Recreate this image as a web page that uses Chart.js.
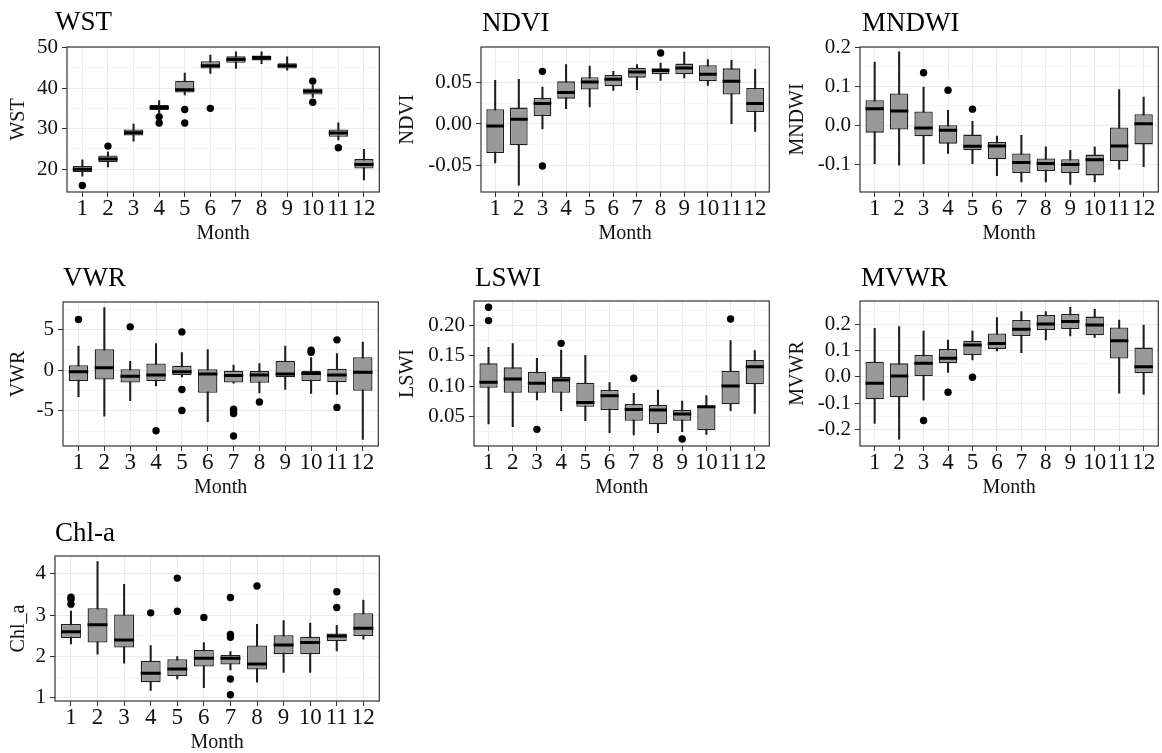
<!DOCTYPE html>
<html>
<head>
<meta charset="utf-8">
<title>Monthly boxplots</title>
<script src="https://cdn.jsdelivr.net/npm/chart.js@4.4.1/dist/chart.umd.min.js"></script>
<style>
  html, body { margin: 0; padding: 0; background: #fff; overflow: hidden; }
  body { width: 1162px; height: 753px; position: relative; }
  .panel { position: absolute; }
</style>
</head>
<body>
<script>
// x categories
const months = [1, 2, 3, 4, 5, 6, 7, 8, 9, 10, 11, 12];
const monthLabels = ['1', '2', '3', '4', '5', '6', '7', '8', '9', '10', '11', '12'];

// box stats per month: [lower whisker, q1, median, q3, upper whisker]
const wstBox = [
  [18.3, 19.3, 20.0, 20.8, 22.3], [20.6, 21.7, 22.5, 23.4, 24.3], [26.9, 28.3, 29.0, 29.8, 31.1],
  [33.8, 34.6, 35.2, 35.8, 36.9], [38.3, 38.9, 39.6, 41.8, 43.7], [43.6, 44.8, 45.5, 46.6, 48.1],
  [44.8, 46.2, 47.0, 47.8, 48.9], [46.0, 46.8, 47.5, 48.0, 48.9], [44.4, 44.8, 45.5, 46.1, 47.7],
  [37.7, 38.4, 39.2, 39.9, 40.7], [27.2, 28.0, 28.9, 29.8, 31.4], [17.4, 20.2, 21.2, 22.5, 24.9]
];
const wstOut = [[1, 16.0], [2, 25.7], [4, 32.9], [4, 31.4], [5, 34.7], [5, 31.4], [6, 35.0], [10, 41.7], [10, 36.5], [11, 25.3]];
const wstTicks = [20, 30, 40, 50];
const wstTickLabels = ['20', '30', '40', '50'];
const wstRange = [14.4, 50.1];

const ndviBox = [
  [-0.0464, -0.0345, -0.0024, 0.0175, 0.052], [-0.073, -0.0254, 0.0056, 0.0195, 0.0532], [-0.006, 0.0095, 0.0243, 0.031, 0.044],
  [0.0183, 0.0302, 0.0374, 0.0508, 0.0707], [0.0202, 0.041, 0.050, 0.0556, 0.069], [0.0401, 0.0449, 0.0532, 0.0583, 0.0627],
  [0.041, 0.0552, 0.062, 0.0671, 0.0707], [0.052, 0.0592, 0.0636, 0.0663, 0.0726], [0.0548, 0.0592, 0.0667, 0.0719, 0.0857],
  [0.046, 0.0508, 0.0592, 0.0699, 0.0767], [0.0005, 0.035, 0.0508, 0.0663, 0.0758], [-0.0087, 0.0143, 0.0243, 0.0429, 0.0651]
];
const ndviOut = [[3, 0.0627], [3, -0.050], [8, 0.0845]];
const ndviTicks = [-0.05, 0.00, 0.05];
const ndviTickLabels = ['-0.05', '0.00', '0.05'];
const ndviRange = [-0.081, 0.0917];

const mndwiBox = [
  [-0.097, -0.018, 0.043, 0.0645, 0.162], [-0.101, -0.010, 0.037, 0.082, 0.188], [-0.097, -0.027, -0.006, 0.036, 0.098],
  [-0.071, -0.046, -0.012, 0.001, 0.039], [-0.097, -0.063, -0.053, -0.023, 0.011], [-0.128, -0.086, -0.052, -0.042, -0.027],
  [-0.144, -0.121, -0.094, -0.071, -0.025], [-0.144, -0.116, -0.097, -0.084, -0.054], [-0.150, -0.121, -0.099, -0.086, -0.063],
  [-0.144, -0.127, -0.087, -0.074, -0.054], [-0.111, -0.091, -0.052, -0.005, 0.092], [-0.105, -0.048, 0.005, 0.029, 0.073]
];
const mndwiOut = [[3, 0.135], [4, 0.090], [5, 0.042]];
const mndwiTicks = [-0.1, 0.0, 0.1, 0.2];
const mndwiTickLabels = ['-0.1', '0.0', '0.1', '0.2'];
const mndwiRange = [-0.1694, 0.2005];

const vwrBox = [
  [-3.28, -1.35, -0.20, 0.61, 2.95], [-5.66, -1.15, 0.29, 2.58, 7.70], [-3.77, -1.52, -0.74, 0.12, 1.10],
  [-1.93, -1.35, -0.61, 0.82, 3.28], [-0.82, -0.61, -0.20, 0.53, 2.17], [-6.35, -2.79, -0.49, 0.12, 2.54],
  [-1.60, -1.52, -0.66, -0.08, 0.61], [-2.79, -1.56, -0.61, -0.12, 0.82], [-2.38, -0.86, -0.49, 1.15, 2.95],
  [-2.87, -1.35, -0.41, 0.00, 1.56], [-2.99, -1.48, -0.61, 0.16, 2.05], [-8.52, -2.54, -0.25, 1.60, 3.44]
];
const vwrOut = [[1, 6.23], [3, 5.33], [4, -7.46], [5, 4.71], [5, -2.38], [5, -4.96], [7, -4.80], [7, -5.04], [7, -5.33], [7, -8.10],
  [8, -3.93], [10, 2.46], [10, 2.21], [11, 3.73], [11, -4.59]];
const vwrTicks = [-5, 0, 5];
const vwrTickLabels = ['-5', '0', '5'];
const vwrRange = [-9.34, 8.39];

const lswiBox = [
  [0.038, 0.0976, 0.1064, 0.1376, 0.1639], [0.0336, 0.0894, 0.1119, 0.131, 0.170], [0.0774, 0.0894, 0.1047, 0.1234, 0.1458],
  [0.0599, 0.0894, 0.1102, 0.1157, 0.1595], [0.0434, 0.0664, 0.0735, 0.1058, 0.1507], [0.0237, 0.061, 0.0845, 0.0938, 0.1058],
  [0.0199, 0.0434, 0.062, 0.0708, 0.0883], [0.0237, 0.0374, 0.061, 0.0692, 0.0938], [0.0254, 0.0434, 0.0544, 0.061, 0.0757],
  [0.021, 0.0281, 0.0664, 0.0681, 0.0845], [0.0599, 0.0703, 0.1004, 0.1255, 0.1748], [0.0555, 0.1031, 0.1321, 0.1431, 0.1584]
];
const lswiOut = [[1, 0.2296], [1, 0.2077], [3, 0.0292], [4, 0.1704], [7, 0.113], [9, 0.0133], [11, 0.2104]];
const lswiTicks = [0.05, 0.10, 0.15, 0.20];
const lswiTickLabels = ['0.05', '0.10', '0.15', '0.20'];
const lswiRange = [0.0019, 0.2399];

const mvwrBox = [
  [-0.177, -0.085, -0.024, 0.058, 0.185], [-0.237, -0.077, 0.004, 0.052, 0.192], [-0.088, 0.004, 0.052, 0.084, 0.175],
  [0.017, 0.052, 0.071, 0.107, 0.141], [0.065, 0.084, 0.122, 0.138, 0.175], [0.099, 0.107, 0.128, 0.166, 0.226],
  [0.093, 0.156, 0.182, 0.217, 0.249], [0.141, 0.179, 0.202, 0.236, 0.249], [0.156, 0.183, 0.211, 0.240, 0.265],
  [0.151, 0.159, 0.198, 0.230, 0.258], [-0.062, 0.070, 0.138, 0.189, 0.217], [-0.066, 0.014, 0.039, 0.112, 0.198]
];
const mvwrOut = [[3, -0.166], [4, -0.058], [5, -0.001]];
const mvwrTicks = [-0.2, -0.1, 0.0, 0.1, 0.2];
const mvwrTickLabels = ['-0.2', '-0.1', '0.0', '0.1', '0.2'];
const mvwrRange = [-0.263, 0.2895];

const chlBox = [
  [2.31, 2.45, 2.60, 2.79, 3.10], [2.06, 2.34, 2.77, 3.17, 4.30], [1.84, 2.22, 2.40, 3.02, 3.75],
  [1.18, 1.38, 1.60, 1.90, 2.27], [1.46, 1.53, 1.70, 1.94, 2.00], [1.25, 1.76, 1.96, 2.16, 2.34],
  [1.68, 1.81, 1.96, 2.04, 2.12], [1.38, 1.69, 1.82, 2.27, 2.78], [1.62, 2.06, 2.28, 2.52, 2.87],
  [1.62, 2.06, 2.34, 2.48, 2.81], [2.14, 2.37, 2.50, 2.56, 2.76], [2.42, 2.50, 2.69, 3.05, 3.37]
];
const chlOut = [[1, 3.44], [1, 3.38], [1, 3.27], [4, 3.06], [5, 3.90], [5, 3.10], [6, 2.95], [7, 3.43], [7, 2.54], [7, 2.47],
  [7, 1.46], [7, 1.08], [8, 3.71], [11, 3.57], [11, 3.19]];
const chlTicks = [1, 2, 3, 4];
const chlTickLabels = ['1', '2', '3', '4'];
const chlRange = [0.927, 4.435];

Chart.defaults.font.family = '"Liberation Serif", "Times New Roman", serif';
Chart.defaults.color = '#111';

// panel layout: plot rect [left, top, right, bottom] in page pixels, canvas left, title position
const panels = [
  { title: 'WST', yTitle: 'WST', box: wstBox, out: wstOut, ticks: wstTicks, labels: wstTickLabels, range: wstRange,
    plot: [67, 47, 382, 192], col: 7, titleX: 55, titleY: 30 },
  { title: 'NDVI', yTitle: 'NDVI', box: ndviBox, out: ndviOut, ticks: ndviTicks, labels: ndviTickLabels, range: ndviRange,
    plot: [481, 47, 772, 192], col: 396, titleX: 482, titleY: 31 },
  { title: 'MNDWI', yTitle: 'MNDWI', box: mndwiBox, out: mndwiOut, ticks: mndwiTicks, labels: mndwiTickLabels, range: mndwiRange,
    plot: [860, 47, 1161, 192], col: 786, titleX: 862, titleY: 31 },
  { title: 'VWR', yTitle: 'VWR', box: vwrBox, out: vwrOut, ticks: vwrTicks, labels: vwrTickLabels, range: vwrRange,
    plot: [63, 302, 381, 446], col: 7, titleX: 63, titleY: 286 },
  { title: 'LSWI', yTitle: 'LSWI', box: lswiBox, out: lswiOut, ticks: lswiTicks, labels: lswiTickLabels, range: lswiRange,
    plot: [474, 301, 772, 446], col: 396, titleX: 475, titleY: 286 },
  { title: 'MVWR', yTitle: 'MVWR', box: mvwrBox, out: mvwrOut, ticks: mvwrTicks, labels: mvwrTickLabels, range: mvwrRange,
    plot: [860, 301, 1161, 446], col: 786, titleX: 861, titleY: 286 },
  { title: 'Chl-a', yTitle: 'Chl_a', box: chlBox, out: chlOut, ticks: chlTicks, labels: chlTickLabels, range: chlRange,
    plot: [55, 556, 382, 701], col: 7, titleX: 55, titleY: 541 }
];

const PAD_TOP = 40, X_AXIS_H = 54;

// panel border + title
const panelDeco = {
  id: 'panelDeco',
  afterDraw(chart, args, opts) {
    const { ctx, chartArea: a } = chart;
    ctx.save();
    ctx.strokeStyle = '#333';
    ctx.lineWidth = 1.2;
    ctx.strokeRect(a.left, a.top, a.right - a.left, a.bottom - a.top);
    ctx.fillStyle = '#000';
    ctx.font = '27px "Liberation Serif", serif';
    ctx.textAlign = 'left';
    ctx.textBaseline = 'alphabetic';
    ctx.fillText(opts.text, opts.x, opts.y);
    ctx.restore();
  }
};

function buildPanel(p) {
  const top = p.plot[1] - PAD_TOP;
  const w = p.plot[2] + 1 - p.col;
  const h = p.plot[3] + X_AXIS_H - top;
  const div = document.createElement('div');
  div.className = 'panel';
  div.style.left = p.col + 'px';
  div.style.top = top + 'px';
  div.style.width = w + 'px';
  div.style.height = h + 'px';
  const canvas = document.createElement('canvas');
  div.appendChild(canvas);
  document.body.appendChild(div);

  // major ticks from the arrays, minor ticks halfway between
  const step = p.ticks[1] - p.ticks[0];
  const yTicks = p.ticks.map(v => ({ value: v, minor: false }));
  for (let v = p.ticks[0] - step / 2; v <= p.range[1]; v += step) {
    if (v >= p.range[0]) yTicks.push({ value: +v.toFixed(6), minor: true });
  }
  yTicks.sort((a, b) => a.value - b.value);
  const labelFor = v => {
    const i = p.ticks.findIndex(t => Math.abs(t - v) < 1e-9);
    return i >= 0 ? p.labels[i] : '';
  };

  const halfBox = ctx => {
    const s = ctx.chart.scales.x;
    return (s.getPixelForValue(1) - s.getPixelForValue(0)) * 0.375;
  };

  new Chart(canvas, {
    type: 'bar',
    data: {
      datasets: [
        {
          type: 'line', showLine: false,
          data: p.out.map(o => ({ x: o[0], y: o[1] })),
          pointRadius: 3.7, pointHoverRadius: 3.7, pointBackgroundColor: '#000', pointBorderWidth: 0
        },
        {
          type: 'line', showLine: false,
          data: p.box.map((b, i) => ({ x: months[i], y: b[2] })),
          pointStyle: 'line', pointRadius: halfBox, pointHoverRadius: halfBox,
          pointBorderColor: '#000', pointBorderWidth: 3
        },
        {
          data: p.box.map((b, i) => ({ x: months[i], y: [b[1], b[3]] })),
          backgroundColor: '#999999', borderColor: '#1e1e1e', borderWidth: 1.3, borderSkipped: false,
          barPercentage: 0.75, categoryPercentage: 1, grouped: false
        },
        {
          data: p.box.map((b, i) => ({ x: months[i], y: [b[0], b[4]] })),
          backgroundColor: '#1e1e1e', borderWidth: 0, barThickness: 1.4, grouped: false
        }
      ]
    },
    options: {
      responsive: true,
      maintainAspectRatio: false,
      animation: false,
      devicePixelRatio: 1,
      events: [],
      layout: { padding: { top: PAD_TOP, right: 1, left: 0, bottom: 0 } },
      plugins: {
        legend: { display: false },
        tooltip: { enabled: false },
        panelDeco: { text: p.title, x: p.titleX - p.col, y: p.titleY - top }
      },
      scales: {
        x: {
          type: 'linear', min: 0.4, max: 12.6, offset: false,
          afterBuildTicks: s => { s.ticks = months.map(m => ({ value: m })); },
          afterFit: s => { s.height = X_AXIS_H; },
          ticks: {
            callback: (v, i) => monthLabels[i],
            autoSkip: false, maxRotation: 0, minRotation: 0,
            font: { size: 23 }, color: '#111', padding: -2
          },
          grid: { offset: false, color: '#ebebeb', lineWidth: 1, tickLength: 5, tickColor: '#333', tickWidth: 1 },
          border: { display: false },
          title: { display: true, text: 'Month', font: { size: 20 }, color: '#111', padding: 0 }
        },
        y: {
          type: 'linear', min: p.range[0], max: p.range[1],
          afterBuildTicks: s => { s.ticks = yTicks.map(t => ({ value: t.value, minor: t.minor })); },
          afterFit: s => { s.width = p.plot[0] - p.col; },
          ticks: {
            callback: (v, i, ts) => (ts[i].minor ? '' : labelFor(v)),
            autoSkip: false, font: { size: 21 }, color: '#111', padding: 4
          },
          grid: {
            color: c => (c.tick && c.tick.minor ? '#f2f2f2' : '#ebebeb'),
            lineWidth: c => (c.tick && c.tick.minor ? 0.7 : 1),
            tickLength: 5,
            tickColor: c => (c.tick && c.tick.minor ? 'rgba(0,0,0,0)' : '#333'),
            tickWidth: 1
          },
          border: { display: false },
          title: { display: true, text: p.yTitle, font: { size: 20 }, color: '#111', padding: 0 }
        }
      }
    },
    plugins: [panelDeco]
  });
}

panels.forEach(buildPanel);
</script>
</body>
</html>
